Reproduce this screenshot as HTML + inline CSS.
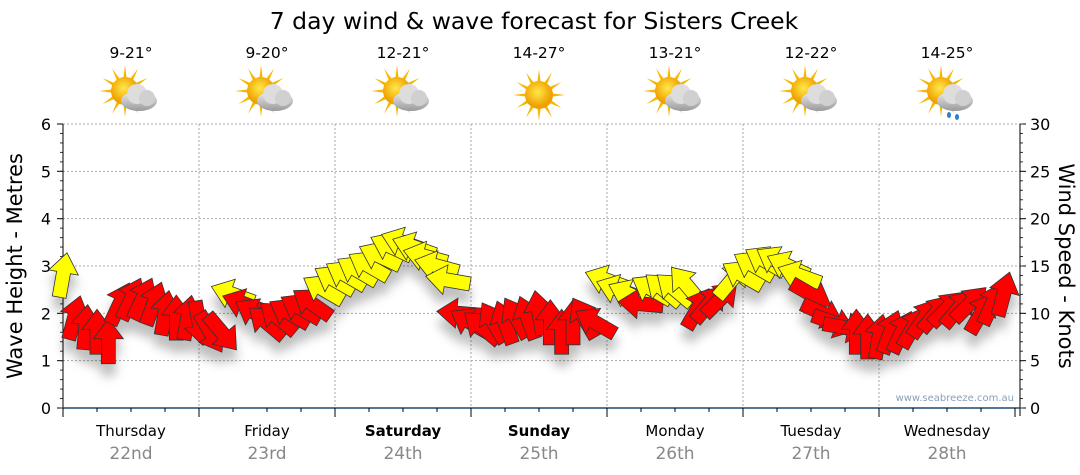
<!DOCTYPE html>
<html><head><meta charset="utf-8"><style>
body{margin:0;background:#fff;}
svg{display:block;font-family:"DejaVu Sans","Liberation Sans",sans-serif;}
</style></head><body>
<svg id="chart" width="1080" height="475" viewBox="0 0 1080 475">
<defs>
<filter id="sh" x="-50%" y="-50%" width="200%" height="250%"><feDropShadow dx="0" dy="12" stdDeviation="5" flood-color="#000" flood-opacity="0.25"/></filter>
<radialGradient id="sun" cx="45%" cy="40%"><stop offset="0" stop-color="#ffe94a"/><stop offset="1" stop-color="#f0a000"/></radialGradient>
<linearGradient id="cloud" x1="0" y1="0" x2="0" y2="1"><stop offset="0" stop-color="#eee"/><stop offset="1" stop-color="#9a9a9a"/></linearGradient>
</defs>
<text x="534" y="29" font-size="23.5" text-anchor="middle" fill="#000">7 day wind &amp; wave forecast for Sisters Creek</text>
<g id="grid"></g>
<g id="icons"></g>
<g id="marks" filter="url(#sh)"></g>
<text transform="translate(22,266) rotate(-90)" font-size="21" text-anchor="middle">Wave Height - Metres</text>
<text transform="translate(1059,266) rotate(90)" font-size="21" text-anchor="middle">Wind Speed - Knots</text>
<text x="1014" y="401" font-size="10" text-anchor="end" fill="#8aa0b8">www.seabreeze.com.au</text>
</svg>
<script>
const days=["Thursday","Friday","Saturday","Sunday","Monday","Tuesday","Wednesday"];
const dates=["22nd","23rd","24th","25th","26th","27th","28th"];
const temps=["9-21°","9-20°","12-21°","14-27°","13-21°","12-22°","14-25°"];
const icons=["cloud","cloud","cloud","sun","cloud","cloud","rain"];
const boldDays=[false,false,true,true,false,false,false];
const leftTicks=[0,1,2,3,4,5,6];
const rightTicks=[0,5,10,15,20,25,30];
const hours=[0,2,4,6,8,10,12,14,16,18,20,22,24,26,28,30,32,34,36,38,40,42,44,46,48,50,52,54,56,58,60,62,64,66,68,70,72,74,76,78,80,82,84,86,88,90,92,94,96,98,100,102,104,106,108,110,112,114,116,118,120,122,124,126,128,130,132,134,136,138,140,142,144,146,148,150,152,154,156,158,160,162,164,166];
const windSpeed=[14,9.5,8.5,8,7,11,11.5,11.5,11,10,9.5,9.5,9,8,8,12,11,10,9,9.5,10,10.5,11,12.5,13.5,14,14.5,15,16,17,17.5,17,16,15,13.5,10,9,8.5,9,9,9.5,9.5,10,9,8,9,9.5,9,13.5,12.5,12,11,12.5,12.5,12.5,13,10.5,11,11.5,13.5,14,15,15.5,15.5,15,14,12,10,9,8.5,8,7.5,7.5,8,8,8.5,9.5,10,10.5,10.5,11,10,11,12];
const windDir=[10,15,5,0,0,25,25,25,20,10,0,10,170,150,140,290,290,300,310,310,300,300,305,300,300,300,300,300,295,295,290,290,285,285,280,275,300,310,330,340,330,340,350,0,0,0,330,300,290,290,295,275,300,310,310,320,30,40,45,40,300,300,300,300,295,290,120,115,110,100,0,0,10,20,25,30,35,40,45,40,45,30,25,15];
const windColor=["Y","R","R","R","R","R","R","R","R","R","R","R","R","R","R","Y","R","R","R","R","R","R","R","Y","Y","Y","Y","Y","Y","Y","Y","Y","Y","Y","Y","R","R","R","R","R","R","R","R","R","R","R","R","R","Y","Y","Y","R","Y","Y","Y","Y","R","R","R","Y","Y","Y","Y","Y","Y","Y","R","R","R","R","R","R","R","R","R","R","R","R","R","R","R","R","R","R"];

const NS="http://www.w3.org/2000/svg";
const X0=63,DAYW=136,Y0=408,YTOP=124,X1=1020;
const xH=h=>X0+h*DAYW/24;
const yM=m=>Y0-(Y0-YTOP)*m/6;
const yK=k=>Y0-(Y0-YTOP)*k/30;
function mk(tag,attrs,parent){const e=document.createElementNS(NS,tag);for(const k in attrs)e.setAttribute(k,attrs[k]);parent.appendChild(e);return e;}
const grid=document.getElementById('grid'),ic=document.getElementById('icons'),marks=document.getElementById('marks');
leftTicks.forEach(v=>{
  if(v>0){const g=mk('line',{x1:X0,x2:X1,y1:yM(v),y2:yM(v),stroke:'#aaa','stroke-dasharray':'2,2'},grid);
  
  }
  const t=mk('text',{x:X0-12,y:yM(v)+6,'font-size':16,'text-anchor':'end'},grid);t.textContent=v;
  
  
  mk('line',{x1:X0-6,x2:X0,y1:yM(v),y2:yM(v),stroke:'#000'},grid);
});
for(let m=0;m<=6;m+=0.2){mk('line',{x1:X0-3,x2:X0,y1:yM(m),y2:yM(m),stroke:'#333'},grid);}
rightTicks.forEach(v=>{
  const t=mk('text',{x:X1+10,y:yK(v)+6,'font-size':16},grid);t.textContent=v;
  
  
  mk('line',{x1:X1,x2:X1+6,y1:yK(v),y2:yK(v),stroke:'#000'},grid);
});
for(let k=0;k<=30;k+=1){mk('line',{x1:X1,x2:X1+3,y1:yK(k),y2:yK(k),stroke:'#333'},grid);}
mk('line',{x1:X0,x2:X0,y1:YTOP,y2:Y0+8,stroke:'#000'},grid);
mk('line',{x1:X1,x2:X1,y1:YTOP,y2:Y0+8,stroke:'#000'},grid);
mk('line',{x1:X0,x2:X1,y1:Y0,y2:Y0,stroke:'#1a4a6e','stroke-width':1.5},grid);
for(let h=0;h<=168;h+=6){const major=h%24==0;mk('line',{x1:xH(h),x2:xH(h),y1:Y0,y2:Y0+(major?9:4),stroke:'#000'},grid);}
days.forEach((d,i)=>{
  if(i>0){const g=mk('line',{x1:xH(i*24),x2:xH(i*24),y1:YTOP,y2:Y0,stroke:'#aaa','stroke-dasharray':'2,2'},grid);
  
  }
  const cx=xH(i*24+12);
  const t=mk('text',{x:cx,y:436,'font-size':15,'text-anchor':'middle','font-weight':boldDays[i]?'bold':'normal'},grid);t.textContent=d;
  
  
  const t2=mk('text',{x:cx,y:459,'font-size':17,'text-anchor':'middle',fill:'#888'},grid);t2.textContent=dates[i];
  
  
  const t3=mk('text',{x:cx,y:58,'font-size':15.5,'text-anchor':'middle'},ic);t3.textContent=temps[i];
  
  
  const g=mk('g',{transform:`translate(${cx},95)`},ic);
  
  
  const sx=icons[i]=='sun'?0:-6, sy=icons[i]=='sun'?0:-4;
  for(let a=0;a<360;a+=30){const r=a*Math.PI/180;mk('polygon',{points:`${sx+Math.cos(r-0.15)*12},${sy+Math.sin(r-0.15)*12} ${sx+Math.cos(r)*26},${sy+Math.sin(r)*26} ${sx+Math.cos(r+0.15)*12},${sy+Math.sin(r+0.15)*12}`,fill:'#f5b800'},g);}
  mk('circle',{cx:sx,cy:sy,r:14,fill:'url(#sun)'},g);
  if(icons[i]!='sun'){
    mk('ellipse',{cx:8,cy:6,rx:18,ry:10,fill:'url(#cloud)'},g);
    mk('circle',{cx:6,cy:-1,r:10,fill:'#ddd'},g);
    mk('circle',{cx:16,cy:3,r:8,fill:'#d0d0d0'},g);
    if(icons[i]=='rain'){mk('ellipse',{cx:2,cy:20,rx:2,ry:3,fill:'#2a7fd4'},g);mk('ellipse',{cx:10,cy:22,rx:2,ry:3,fill:'#2a7fd4'},g);}
  }
});
const arrowPts="0,-23 15,-3 7,-3 7,22 -7,22 -7,-3 -15,-3";
hours.forEach((h,i)=>{
  const a=mk('polygon',{points:arrowPts,transform:`translate(${xH(h)},${yK(windSpeed[i])}) rotate(${windDir[i]})`,fill:windColor[i]=='Y'?'#ffff00':'#ff0000',stroke:'#333','stroke-width':0.8,'stroke-linejoin':'miter'},marks);
  
  
});
</script>
</body></html>
